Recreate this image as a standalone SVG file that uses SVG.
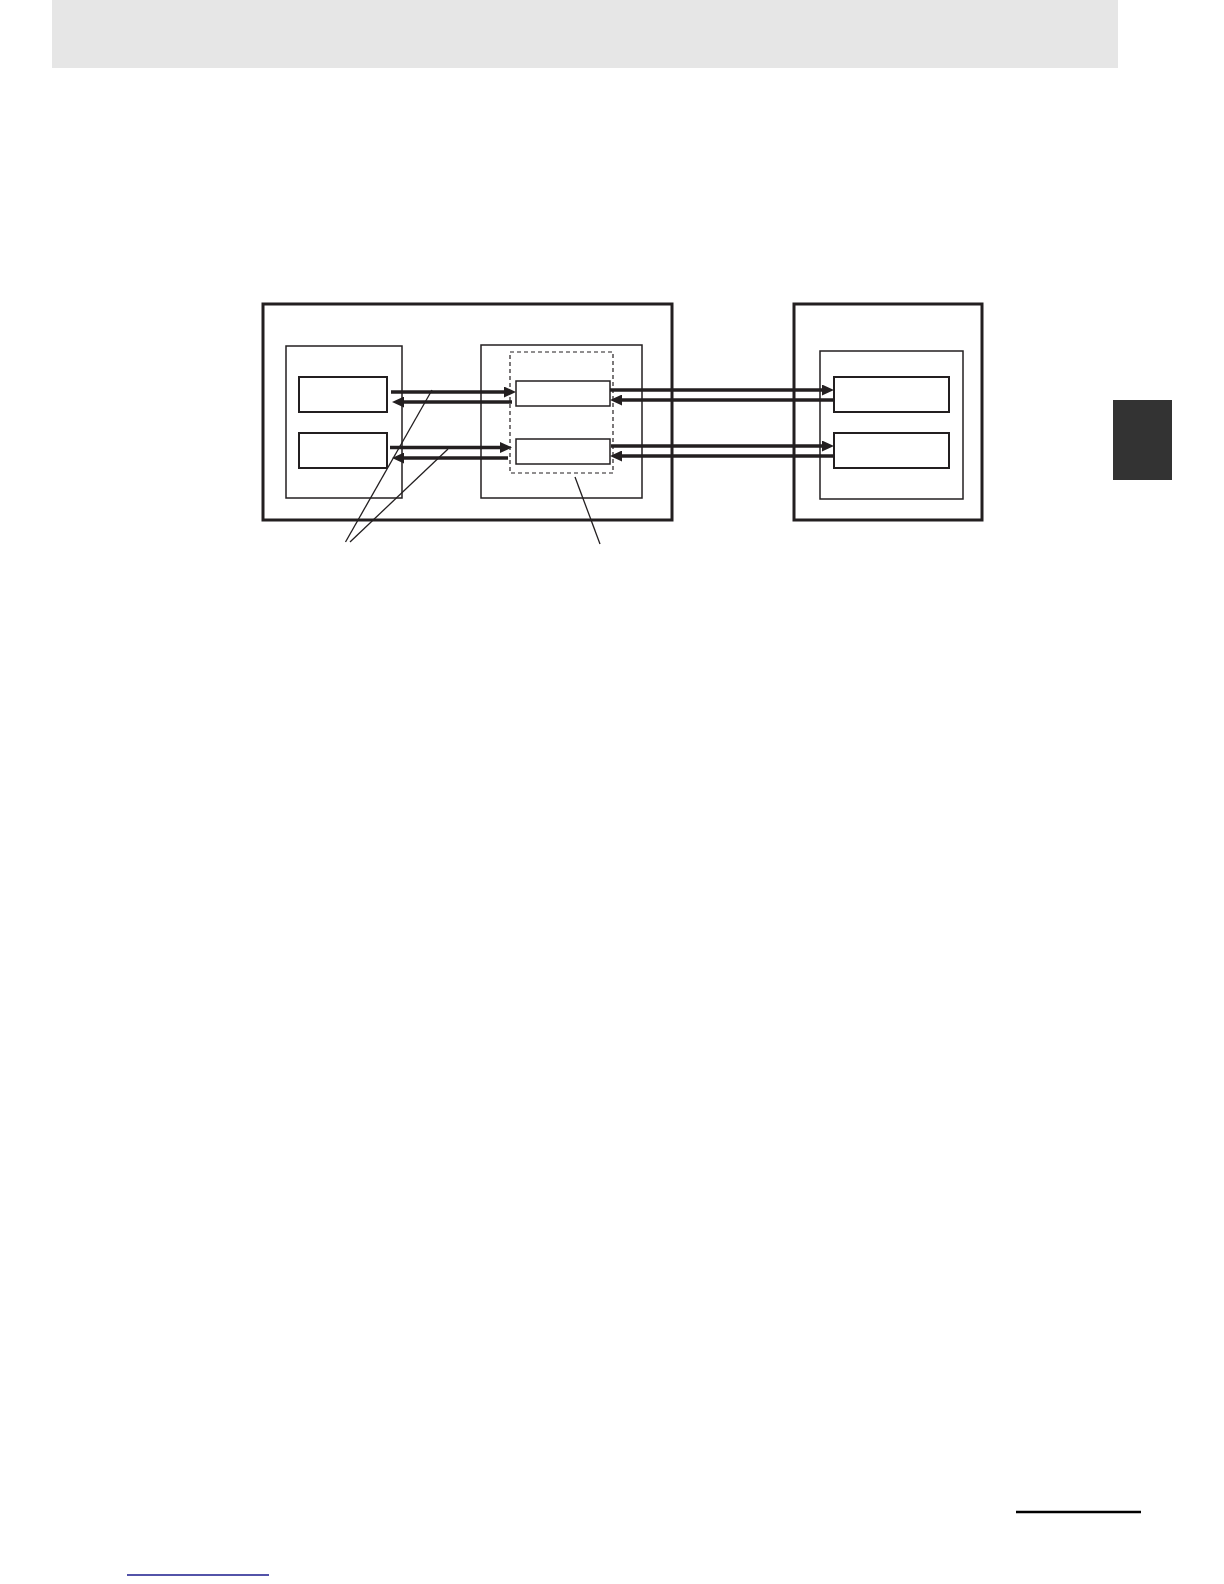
<svg xmlns="http://www.w3.org/2000/svg" width="1224" height="1584" viewBox="0 0 1224 1584">
<style>
.thick{fill:#fff;stroke:#231f20;stroke-width:3}
.thin{fill:#fff;stroke:#231f20;stroke-width:1.5}
.mid{fill:#fff;stroke:#231f20;stroke-width:2}
.dash{fill:none;stroke:#231f20;stroke-width:1.2;stroke-dasharray:4 3}
.arr{stroke:#231f20;stroke-width:3.3;fill:none;marker-end:url(#ah)}
.lead{stroke:#231f20;stroke-width:1.3;fill:none}
</style>
<defs>
<marker id="ah" markerUnits="userSpaceOnUse" markerWidth="12" markerHeight="11" refX="5" refY="5.5" orient="auto">
<path d="M0,0 L12,5.5 L0,11 z" fill="#231f20"/>
</marker>
</defs>
<rect width="1224" height="1584" fill="#fff"/>
<rect id="header" x="52" y="0" width="1066" height="68" fill="#e6e6e6"/>
<rect id="tab" x="1113" y="400" width="59" height="80" fill="#333"/>
<line id="footer-line" x1="1016" y1="1512" x2="1141" y2="1512" stroke="#000" stroke-width="2.7"/>
<line id="footer-link" x1="127" y1="1575" x2="269" y2="1575" stroke="#1a1a8c" stroke-width="1.4"/>

<g id="unitA"><rect class="thick" x="263" y="304" width="409" height="216"/></g>
<g id="unitD"><rect class="thick" x="794" y="304" width="188" height="216"/></g>
<g id="boxB"><rect class="thin" x="286" y="346" width="116" height="152"/></g>
<g id="boxB1"><rect class="mid" x="299" y="377" width="88" height="35"/></g>
<g id="boxB2"><rect class="mid" x="299" y="433" width="88" height="35"/></g>
<g id="boxC"><rect class="thin" x="481" y="345" width="161" height="153"/></g>
<g id="dashC"><rect class="dash" x="510" y="352" width="103" height="121"/></g>
<g id="boxC1"><rect class="thin" x="516" y="381" width="94" height="25"/></g>
<g id="boxC2"><rect class="thin" x="516" y="439" width="94" height="25"/></g>
<g id="boxE"><rect class="thin" x="820" y="351" width="143" height="148"/></g>
<g id="boxE1"><rect class="mid" x="834" y="377" width="115" height="35"/></g>
<g id="boxE2"><rect class="mid" x="834" y="433" width="115" height="35"/></g>

<g id="connectors">
<line class="arr" x1="391" y1="392" x2="509" y2="392"/>
<line class="arr" x1="512" y1="402" x2="399" y2="402"/>
<line class="arr" x1="390" y1="447.5" x2="505" y2="447.5"/>
<line class="arr" x1="508" y1="458" x2="399" y2="458"/>
<line class="arr" x1="610" y1="390" x2="827" y2="390"/>
<line class="arr" x1="833" y1="400" x2="617" y2="400"/>
<line class="arr" x1="611" y1="446" x2="827" y2="446"/>
<line class="arr" x1="835" y1="456" x2="617" y2="456"/>
<line class="lead" x1="345.5" y1="542" x2="432" y2="390"/>
<line class="lead" x1="350" y1="542" x2="448" y2="449"/>
<line class="lead" x1="575" y1="477" x2="600" y2="544"/>
</g>
</svg>
